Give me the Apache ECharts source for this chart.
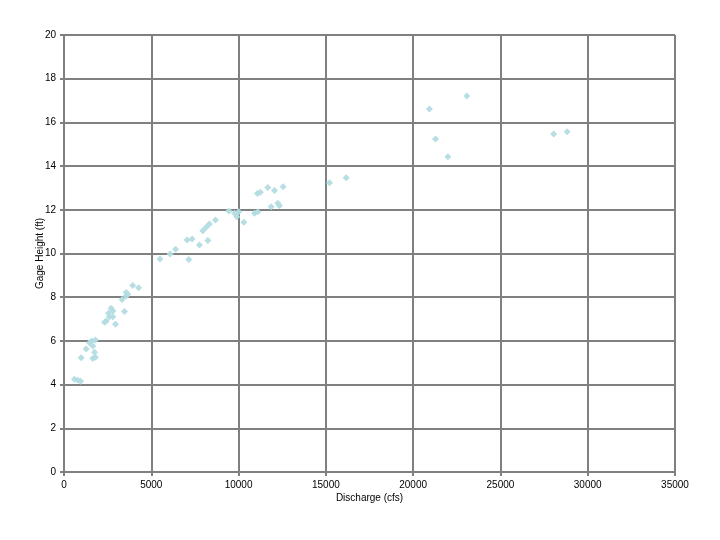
<!DOCTYPE html>
<html>
<head>
<meta charset="utf-8">
<script src="https://cdn.jsdelivr.net/npm/echarts@6/dist/echarts.min.js"></script>
<style>html,body{margin:0;padding:0;background:#fff;}#c{width:720px;height:540px;}</style>
</head>
<body>
<div id="c"></div>
<script>
const discharge = [600, 800, 950, 985, 1270, 1460, 1590, 1800, 1650, 1750, 1650, 1800,
  2320, 2420, 2550, 2700, 2800, 2600, 2800, 2950, 3465, 3330, 3560, 3660, 3560, 3940, 4270,
  5500, 6080, 6390, 7150, 7050, 7340, 7760, 8240, 7950, 8140, 8330, 8680,
  9440, 9770, 9900, 10010, 10300, 10910, 11100, 11080, 11250, 11670, 12060, 12550,
  11870, 12250, 12340, 15210, 16160, 20930, 23070, 21280, 21990, 28050, 28820];
const gageHeight = [4.25, 4.2, 4.15, 5.23, 5.63, 5.92, 6.0, 6.04, 5.77, 5.48, 5.19, 5.25,
  6.85, 6.91, 7.26, 7.49, 7.37, 7.11, 7.11, 6.76, 7.34, 7.9, 8.05, 8.13, 8.22, 8.53, 8.43,
  9.75, 9.98, 10.19, 9.73, 10.62, 10.66, 10.39, 10.6, 11.04, 11.2, 11.35, 11.53,
  11.94, 11.84, 11.68, 11.91, 11.43, 11.84, 11.91, 12.75, 12.8, 13.02, 12.88, 13.06,
  12.14, 12.3, 12.19, 13.24, 13.47, 16.61, 17.21, 15.24, 14.43, 15.47, 15.57];
const xTitle = 'Discharge (cfs)';
const yTitle = 'Gage Height (ft)';

const points = discharge.map((d, i) => [d, gageHeight[i]]);
const font = 'Liberation Sans, Arial, sans-serif';
const chart = echarts.init(document.getElementById('c'), null, {renderer: 'canvas'});
chart.setOption({
  animation: false,
  backgroundColor: '#ffffff',
  grid: {left: 64, right: 45, top: 35, bottom: 68, containLabel: false},
  xAxis: {
    type: 'value', min: 0, max: 35000, interval: 5000,
    name: xTitle, nameLocation: 'middle', nameGap: 21, nameMoveOverlap: false,
    nameTextStyle: {fontFamily: font, fontSize: 10, color: '#000'},
    axisLine: {onZero: false, lineStyle: {color: '#808080', width: 2}},
    axisTick: {show: true, length: 4, lineStyle: {color: '#808080', width: 2}},
    axisLabel: {fontFamily: font, fontSize: 10, color: '#000', margin: 8, formatter: v => String(v)},
    splitLine: {show: true, lineStyle: {color: '#808080', width: 2}}
  },
  yAxis: {
    type: 'value', min: 0, max: 20, interval: 2,
    name: yTitle, nameLocation: 'middle', nameGap: 19, nameRotate: 90, nameMoveOverlap: false,
    nameTextStyle: {fontFamily: font, fontSize: 10, color: '#000'},
    axisLine: {onZero: false, lineStyle: {color: '#808080', width: 2}},
    axisTick: {show: true, length: 4, lineStyle: {color: '#808080', width: 2}},
    axisLabel: {fontFamily: font, fontSize: 10, color: '#000', margin: 8},
    splitLine: {show: true, lineStyle: {color: '#808080', width: 2}}
  },
  series: [{
    type: 'scatter',
    data: points,
    symbol: 'diamond',
    symbolSize: 7,
    itemStyle: {color: '#b2dce1', opacity: 0.95}
  }]
});
</script>
</body>
</html>
